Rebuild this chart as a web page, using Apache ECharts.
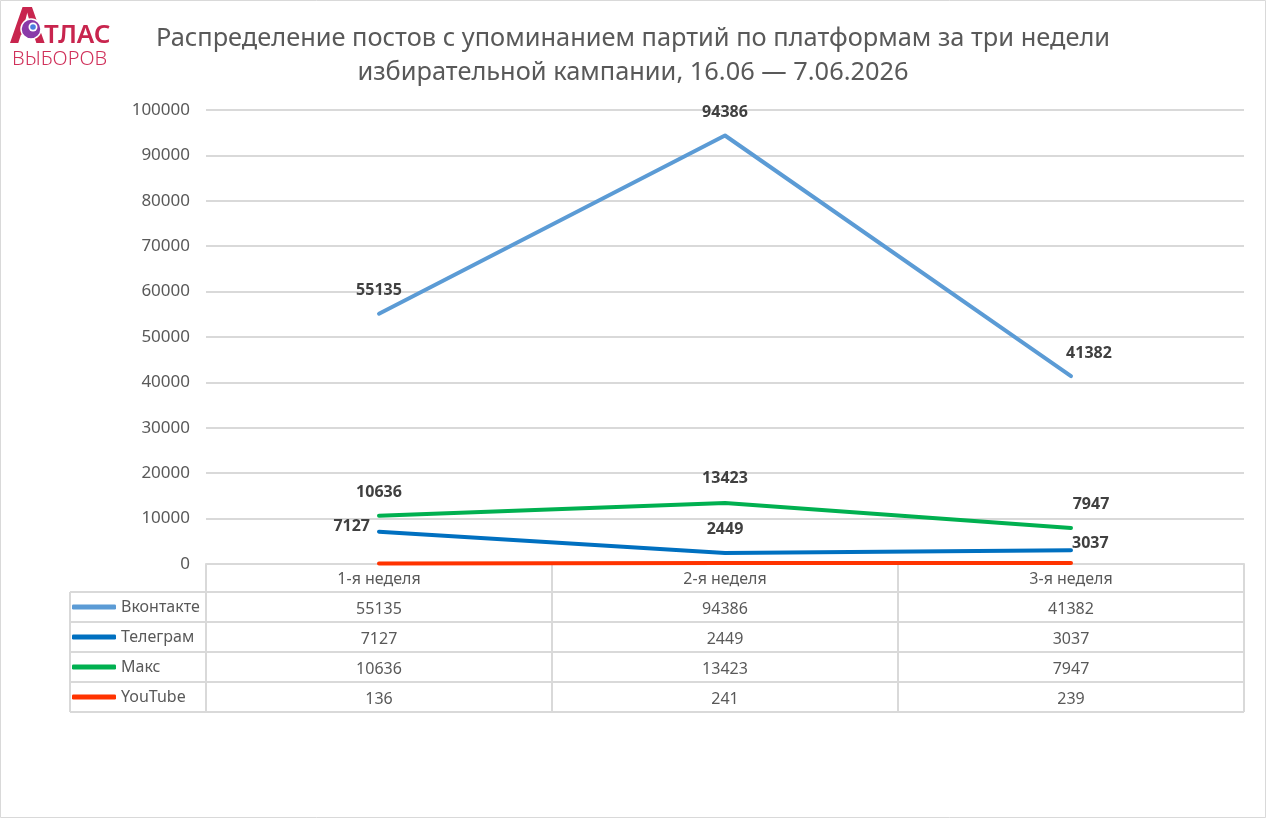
<!DOCTYPE html>
<html>
<head>
<meta charset="utf-8">
<script src="https://cdn.jsdelivr.net/npm/echarts@6/dist/echarts.min.js"></script>
<style>
  html, body { margin: 0; padding: 0; background: #fff; }
  #chart { width: 1268px; height: 820px; }
</style>
</head>
<body>
<div id="chart"></div>
<script>
// данные
const weeks = ['1-я неделя', '2-я неделя', '3-я неделя'];
const vkontakte = [55135, 94386, 41382];
const telegram = [7127, 2449, 3037];
const maks = [10636, 13423, 7947];
const youtube = [136, 241, 239];
const seriesNames = ['Вконтакте', 'Телеграм', 'Макс', 'YouTube'];
const seriesColors = ['#5b9bd5', '#0070c0', '#00b050', '#ff3300'];

const FONT = 'Noto Sans';
const W = 1268, H = 820;
const GRID_LEFT = 206, GRID_RIGHT = 24, GRID_TOP = 110, GRID_BOTTOM = 256;
const TABLE_LEFT = 70, HEADER_H = 28, ROW_H = 30;

const chart = echarts.init(document.getElementById('chart'));

const allSeries = [vkontakte, telegram, maks, youtube];

// позиции подписей (как в исходной диаграмме)
const labelPos = [
  [{ position: 'top', offset: [0, -10] }, { position: 'top', offset: [0, -10] }, { position: 'top', offset: [18, -10] }],
  [{ position: 'left', offset: [-4, -5] }, { position: 'top', offset: [0, -10] }, { position: 'right', offset: [-4, -7] }],
  [{ position: 'top', offset: [0, -10] }, { position: 'top', offset: [0, -12] }, { position: 'top', offset: [20, -10] }],
  null
];

const getSeriesOption = () => {
  const series = [];
  allSeries.map((data, i) => {
    series.push({
      name: seriesNames[i],
      type: 'line',
      symbol: 'circle',
      symbolSize: 0,
      showSymbol: true,
      color: seriesColors[i],
      lineStyle: { width: 4, cap: 'round', join: 'round', color: seriesColors[i] },
      data: data.map((v, j) => {
        const p = labelPos[i];
        if (!p) return v;
        return {
          value: v,
          label: {
            show: true,
            position: p[j].position,
            offset: p[j].offset,
            color: '#404040',
            fontWeight: 'bold',
            fontSize: 16,
            fontFamily: FONT
          }
        };
      })
    });
  });
  return series;
};

// таблица данных под осью
const getTableGraphics = () => {
  const els = [];
  const lineStyle = { stroke: '#d9d9d9', lineWidth: 2 };
  const x0 = GRID_LEFT, x1 = W - GRID_RIGHT;
  const yAxis = H - GRID_BOTTOM;
  const yRows = [yAxis + HEADER_H];
  for (let i = 1; i <= seriesNames.length; i++) yRows.push(yAxis + HEADER_H + i * ROW_H);
  const yEnd = yRows[yRows.length - 1];
  yRows.map((y) => {
    els.push({ type: 'line', shape: { x1: TABLE_LEFT, y1: y, x2: x1, y2: y }, style: lineStyle, silent: true });
  });
  els.push({ type: 'line', shape: { x1: TABLE_LEFT, y1: yRows[0], x2: TABLE_LEFT, y2: yEnd }, style: lineStyle, silent: true });
  const band = (x1 - x0) / weeks.length;
  for (let i = 0; i <= weeks.length; i++) {
    const x = x0 + i * band;
    els.push({ type: 'line', shape: { x1: x, y1: yAxis, x2: x, y2: yEnd }, style: lineStyle, silent: true });
  }
  // рамка
  els.push({ type: 'rect', shape: { x: 0.5, y: 0.5, width: W - 3, height: H - 3 }, style: { fill: 'none', stroke: '#d9d9d9', lineWidth: 1 }, silent: true });
  return els;
};

const getLogo = () => [
  { type: 'text', x: 10, y: 29, style: { text: 'А', fill: '#c8254e', font: 'bold 50px "Noto Sans"', verticalAlign: 'middle' } },
  { type: 'circle', shape: { cx: 31, cy: 29, r: 10 }, style: { fill: '#8a3aa8', stroke: '#fff', lineWidth: 1.5 }, z: 10 },
  { type: 'circle', shape: { cx: 33, cy: 27, r: 4.5 }, style: { fill: '#ffffff' }, z: 11 },
  { type: 'circle', shape: { cx: 33, cy: 27, r: 2.8 }, style: { fill: '#4a7fe0' }, z: 12 },
  { type: 'text', x: 44, y: 36, style: { text: 'ТЛАС', fill: '#c8254e', font: '600 26px "Noto Sans"', verticalAlign: 'middle' } },
  { type: 'text', x: 12, y: 59, style: { text: 'ВЫБОРОВ', fill: '#d0305a', font: '300 20px "Noto Sans"', verticalAlign: 'middle' } }
];

const option = {
  backgroundColor: '#fff',
  animation: false,
  textStyle: { fontFamily: FONT },
  title: {
    text: 'Распределение постов с упоминанием партий по платформам за три недели\nизбирательной кампании, 16.06 — 7.06.2026',
    left: 628,
    top: 17,
    textAlign: 'center',
    textStyle: { color: '#595959', fontSize: 25.4, fontWeight: 'normal', lineHeight: 34, fontFamily: FONT }
  },
  legend: {
    orient: 'vertical',
    left: 72,
    top: H - GRID_BOTTOM + HEADER_H + 5,
    padding: 0,
    itemGap: 10,
    itemWidth: 44,
    itemHeight: 5,
    icon: 'roundRect',
    textStyle: { color: '#595959', fontSize: 16, lineHeight: 20, fontFamily: FONT },
    data: seriesNames
  },
  grid: { left: GRID_LEFT, right: GRID_RIGHT, top: GRID_TOP, bottom: GRID_BOTTOM, containLabel: false },
  xAxis: {
    type: 'category',
    boundaryGap: true,
    data: weeks,
    axisLine: { lineStyle: { color: '#d9d9d9', width: 2 } },
    axisTick: { show: false },
    axisLabel: {
      margin: 0,
      interval: 0,
      color: '#595959',
      fontSize: 16,
      lineHeight: 30,
      fontFamily: FONT,
      formatter: (v, idx) => [v, vkontakte[idx], telegram[idx], maks[idx], youtube[idx]].join('\n')
    }
  },
  yAxis: {
    type: 'value',
    min: 0,
    max: 100000,
    interval: 10000,
    axisLine: { show: false },
    axisTick: { show: false },
    axisLabel: { color: '#595959', fontSize: 17, margin: 16, fontFamily: FONT, formatter: (v) => String(v) },
    splitLine: { lineStyle: { color: '#d9d9d9', width: 2 } }
  },
  graphic: getTableGraphics().concat(getLogo()),
  series: getSeriesOption()
};

chart.setOption(option);
</script>
</body>
</html>
